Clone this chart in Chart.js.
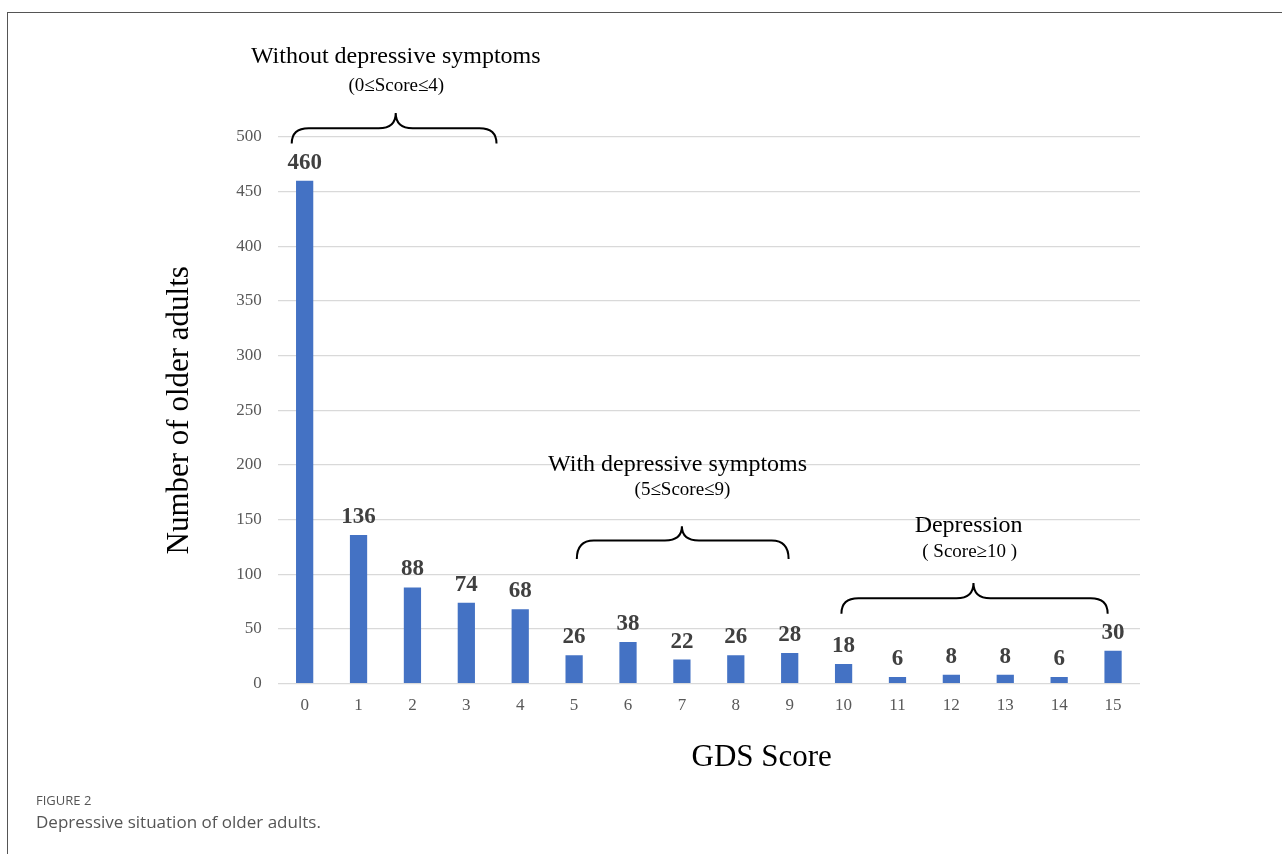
<!DOCTYPE html>
<html>
<head>
<meta charset="utf-8">
<script src="https://cdn.jsdelivr.net/npm/chart.js@4.4.1/dist/chart.umd.min.js"></script>
<style>
    html, body { margin: 0; padding: 0; background: #fff; }
    #wrap { position: relative; width: 1282px; height: 854px; overflow: hidden; }
    #frame { position: absolute; left: 7px; top: 12px; width: 1300px; height: 900px;
             border-top: 1.5px solid #555; border-left: 1.5px solid #555; }
    #chart { position: absolute; left: 0; top: 0; }
    .cap1 { position: absolute; left: 36px; top: 791px; font: 13px 'Open Sans', sans-serif; color: #555; }
    .cap2 { position: absolute; left: 36px; top: 810px; font: 17px 'Open Sans', sans-serif; color: #555; }
</style>
</head>
<body>
<div id="wrap">
    <div id="frame"></div>
    <canvas id="chart" width="1282" height="854"></canvas>
    <div class="cap1">FIGURE 2</div>
    <div class="cap2">Depressive situation of older adults.</div>
</div>
<script>
const scores = ['0', '1', '2', '3', '4', '5', '6', '7', '8', '9', '10', '11', '12', '13', '14', '15'];
const counts = [460, 136, 88, 74, 68, 26, 38, 22, 26, 28, 18, 6, 8, 8, 6, 30];
const yTicks = [0, 50, 100, 150, 200, 250, 300, 350, 400, 450, 500];
const groupTitles = ['Without depressive symptoms', 'With depressive symptoms', 'Depression'];
const groupRanges = ['(0≤Score≤4)', '(5≤Score≤9)', '( Score≥10 )'];
const xTitle = 'GDS Score';

const serif = "'Liberation Serif', 'Times New Roman', serif";

// braces and group labels, placed in data units (category index, count)
const groupMarks = [
    { x1: -0.24, x2: 3.56, xm: 1.69, yEnd: 494, yLine: 508, yPeak: 522, tx: 1.69, ty: 573, sx: 1.70, sy: 547 },
    { x1: 5.05, x2: 8.98, xm: 7.0, yEnd: 114, yLine: 131, yPeak: 144, tx: 6.92, ty: 200, sx: 7.01, sy: 177 },
    { x1: 9.96, x2: 14.9, xm: 12.41, yEnd: 64, yLine: 78, yPeak: 92, tx: 12.32, ty: 144, sx: 12.34, sy: 120 }
];

const valueLabels = {
    id: 'valueLabels',
    afterDatasetsDraw(chart) {
        const ctx = chart.ctx;
        const meta = chart.getDatasetMeta(0);
        ctx.save();
        ctx.font = 'bold 23px ' + serif;
        ctx.fillStyle = '#404040';
        ctx.textAlign = 'center';
        ctx.textBaseline = 'alphabetic';
        meta.data.forEach((bar, i) => {
            ctx.fillText(String(counts[i]), bar.x, bar.y - 12);
        });
        ctx.restore();
    }
};

const braces = {
    id: 'braces',
    afterDraw(chart) {
        const ctx = chart.ctx;
        const xs = chart.scales.x;
        const ys = chart.scales.y;
        ctx.save();
        groupMarks.forEach((g, k) => {
            const x1 = xs.getPixelForValue(g.x1);
            const x2 = xs.getPixelForValue(g.x2);
            const xm = xs.getPixelForValue(g.xm);
            const yE = ys.getPixelForValue(g.yEnd);
            const yL = ys.getPixelForValue(g.yLine);
            const yP = ys.getPixelForValue(g.yPeak);
            const r = 17;
            ctx.beginPath();
            ctx.moveTo(x1, yE);
            ctx.quadraticCurveTo(x1, yL, x1 + r, yL);
            ctx.lineTo(xm - r, yL);
            ctx.quadraticCurveTo(xm, yL, xm, yP);
            ctx.quadraticCurveTo(xm, yL, xm + r, yL);
            ctx.lineTo(x2 - r, yL);
            ctx.quadraticCurveTo(x2, yL, x2, yE);
            ctx.strokeStyle = '#000';
            ctx.lineWidth = 2;
            ctx.stroke();

            ctx.fillStyle = '#000';
            ctx.textAlign = 'center';
            ctx.textBaseline = 'middle';
            ctx.font = '24px ' + serif;
            ctx.fillText(groupTitles[k], xs.getPixelForValue(g.tx), ys.getPixelForValue(g.ty));
            ctx.font = '19px ' + serif;
            ctx.fillText(groupRanges[k], xs.getPixelForValue(g.sx), ys.getPixelForValue(g.sy));
        });

        // x axis title sits right of the axis centre in the original
        ctx.fillStyle = '#000';
        ctx.textAlign = 'center';
        ctx.textBaseline = 'middle';
        ctx.font = '31px ' + serif;
        ctx.fillText(xTitle, xs.getPixelForValue(8.48), chart.chartArea.bottom + 74);
        ctx.restore();
    }
};

const ctx = document.getElementById('chart').getContext('2d');
const chart = new Chart(ctx, {
    type: 'bar',
    data: {
        labels: scores,
        datasets: [{
            label: 'Number of older adults',
            data: counts,
            backgroundColor: '#4472C4',
            barPercentage: 0.32,
            categoryPercentage: 1
        }]
    },
    options: {
        responsive: false,
        animation: false,
        layout: {
            padding: { top: 137, left: 161, right: 142, bottom: 126 }
        },
        plugins: {
            legend: { display: false },
            tooltip: { enabled: false }
        },
        scales: {
            x: {
                grid: { display: false, drawTicks: false },
                border: { display: false },
                ticks: {
                    color: '#595959',
                    font: { family: serif, size: 17 },
                    padding: 12,
                    maxRotation: 0
                }
            },
            y: {
                min: 0,
                max: 500,
                afterBuildTicks(axis) {
                    axis.ticks = yTicks.map(v => ({ value: v }));
                },
                grid: { color: '#d9d9d9', lineWidth: 1.3, drawTicks: false },
                border: { display: false },
                ticks: {
                    color: '#595959',
                    font: { family: serif, size: 17 },
                    padding: 16
                },
                title: {
                    display: true,
                    text: 'Number of older adults',
                    color: '#000',
                    font: { family: serif, size: 31 },
                    padding: { top: 0, bottom: 22 }
                }
            }
        }
    },
    plugins: [valueLabels, braces]
});
</script>
</body>
</html>
